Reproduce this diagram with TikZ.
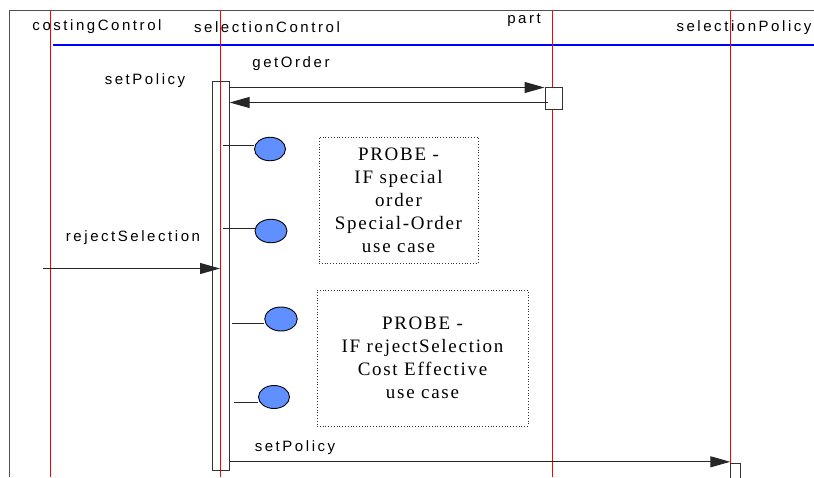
\documentclass[tikz,border=0pt]{standalone}
\usepackage{fontspec}
\usetikzlibrary{arrows.meta,shapes.geometric}
\newfontfamily\lblfont[LetterSpace=17]{Liberation Sans}
\newfontfamily\notefont[LetterSpace=9]{Liberation Serif}
\definecolor{probeblue}{RGB}{96,144,255}
\definecolor{framegray}{RGB}{80,80,80}
\tikzset{
  lbl/.style={inner sep=0pt, font=\lblfont\fontsize{15}{18}\selectfont},
  lifeline/.style={draw=red, line width=0.9pt},
  actbox/.style={draw=black!80, line width=1pt, inner sep=0pt},
  msg/.style={draw=black!85, line width=1.1pt, -{Triangle[length=20pt,width=11pt]}},
  stub/.style={draw=black!85, line width=1pt},
  probe/.style={ellipse, draw=black, line width=0.9pt, fill=probeblue, inner sep=0pt},
  notebox/.style={draw=black!80, dotted, line width=0.8pt, align=center, inner sep=0pt,
    font=\notefont\fontsize{19}{23}\selectfont}
}
\begin{document}
\begin{tikzpicture}[x=1pt,y=-1pt]
\useasboundingbox (0,0) rectangle (814,477);
% frame
\draw[framegray, line width=1pt] (9.5,477) -- (9.5,10) -- (814,10);
% header labels
\node[lbl] (hcc) at (97,27) {costingControl};
\node[lbl] (hsc) at (267,27) {selectionControl};
\node[lbl] (hpart) at (524,20) {part};
\node[lbl] (hsp) at (744,28) {selectionPolicy};
% header rule
\draw[blue, line width=2.6pt] (53,45) -- (814,45);
% lifelines
\coordinate (cc-top) at (50,10);  \coordinate (cc-bot) at (50,477);
\coordinate (sc-top) at (220,10); \coordinate (sc-bot) at (220,477);
\coordinate (pt-top) at (552.3,10); \coordinate (pt-bot) at (552.3,477);
\coordinate (sp-top) at (730.5,10); \coordinate (sp-bot) at (730.5,477);
\draw[lifeline] (cc-top) -- (cc-bot);
\draw[lifeline] (sc-top) -- (sc-bot);
\draw[lifeline] (pt-top) -- (pt-bot);
\draw[lifeline] (sp-top) -- (sp-bot);
% activation boxes
\node[actbox, minimum width=17pt, minimum height=389pt] (act) at (220.6,275.5) {};
\node[actbox, fill=white, minimum width=17pt, minimum height=22pt] (pbox) at (553.5,98) {};
\node[actbox, fill=white, minimum width=9.3pt, minimum height=18pt] (sbox) at (735.4,472.3) {};
% messages
\node[lbl] (lget) at (291,64) {getOrder};
\node[lbl] (lset1) at (145,81) {setPolicy};
\coordinate (getTip) at ([yshift=-1pt]pbox.north west);
\draw[msg] (act.east |- getTip) -- (getTip);
\coordinate (retStart) at ([xshift=3pt,yshift=7pt]pbox.south west);
\draw[msg] (retStart) -- (act.east |- retStart);
\node[lbl] (lrej) at (133,238) {rejectSelection};
\coordinate (rejStart) at (43,268.5);
\draw[msg] (rejStart) -- (sc-top |- rejStart);
\node[lbl] (lset2) at (295,448) {setPolicy};
\coordinate (setTip) at ([yshift=1pt]sbox.north west);
\draw[msg] (act.east |- setTip) -- (setTip);
% probes
\node[probe, minimum width=31pt, minimum height=23.5pt] (e1) at (270,149) {};
\node[probe, minimum width=32pt, minimum height=23.5pt] (e2) at (271,231) {};
\node[probe, minimum width=32.5pt, minimum height=24pt] (e3) at (281,319) {};
\node[probe, minimum width=31pt, minimum height=23pt] (e4) at (274,397) {};
\coordinate (s1) at (223,145);
\coordinate (s2) at (223,228);
\coordinate (s3) at (232,323);
\coordinate (s4) at (234,402);
\draw[stub] (s1) -- (s1 -| e1.west);
\draw[stub] (s2) -- (s2 -| e2.west);
\draw[stub] (s3) -- (s3 -| e3.west);
\draw[stub] (s4) -- (s4 -| e4.west);
% probe notes
\node[notebox, minimum width=159pt, minimum height=126pt] (n1) at (398.5,200)
  {PROBE -\\IF special\\order\\Special-Order\\use case};
\node[notebox, minimum width=211pt, minimum height=136pt] (n2) at (422.5,358)
  {PROBE -\\IF rejectSelection\\Cost Effective\\use case};
\end{tikzpicture}
\end{document}
